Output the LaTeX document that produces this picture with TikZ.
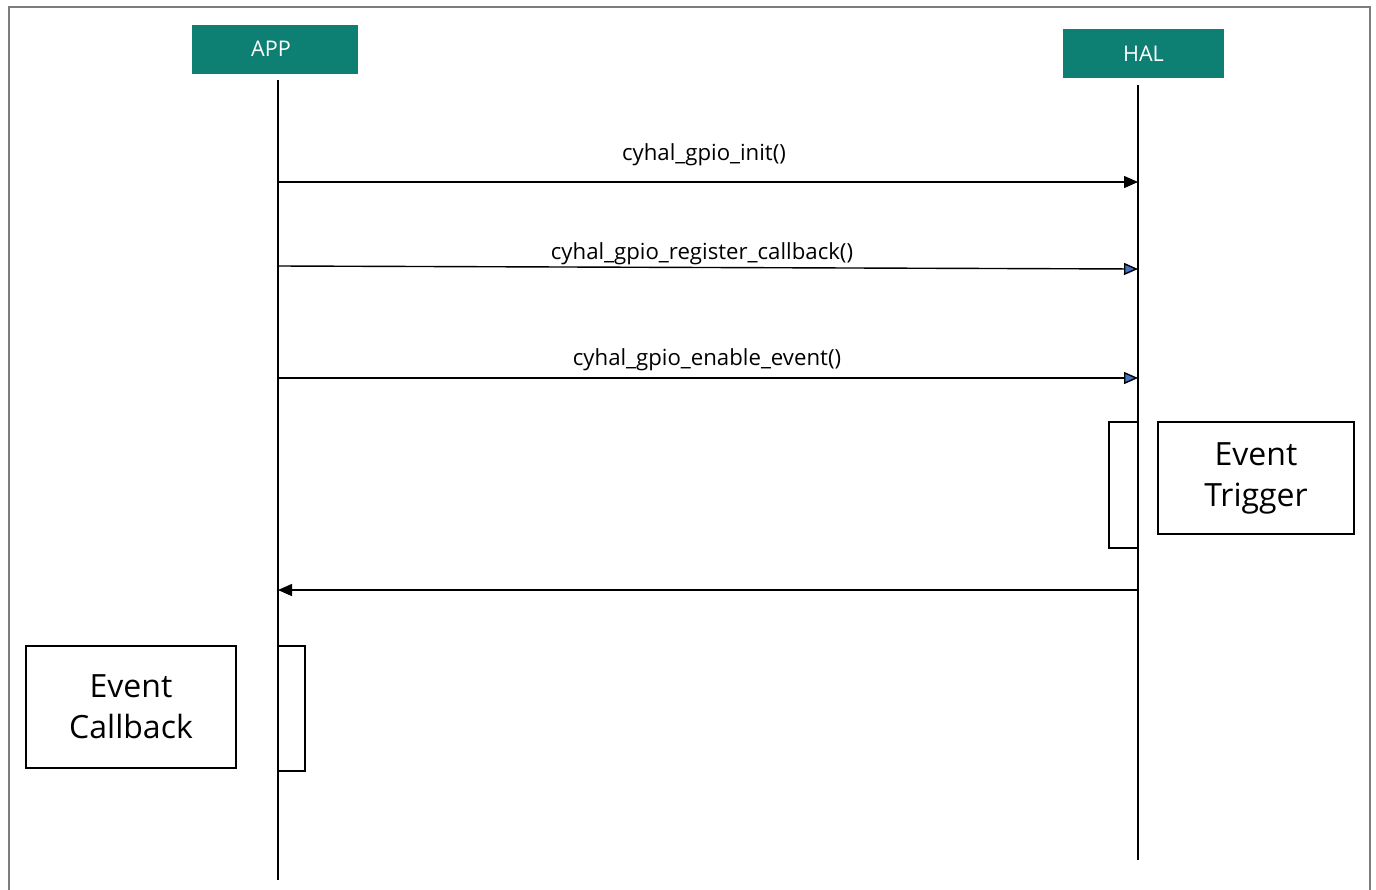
\documentclass[tikz,border=0pt]{standalone}
\usepackage{fontspec}
\setmainfont{Open Sans}
\usetikzlibrary{arrows.meta, positioning}
\definecolor{lane}{RGB}{14,128,115}
\definecolor{msgblue}{RGB}{68,114,196}
\definecolor{frame}{RGB}{125,125,125}

\begin{document}
\begin{tikzpicture}[x=0.5pt, y=-0.5pt, font=\fontsize{11.1}{13}\selectfont,
  actor/.style={fill=lane, text=white, minimum height=24.5pt, inner sep=0pt, font=\fontsize{10.8}{12}\selectfont},
  msg/.style={-{Triangle[length=7pt, width=6pt]}, line width=0.7pt},
  msgb/.style={-{Triangle[length=7pt, width=6pt, fill=msgblue]}, line width=0.7pt},
  act/.style={draw, line width=1.2pt, inner sep=0pt},
  note/.style={draw, line width=1.2pt, align=center, inner sep=0pt, font=\fontsize{16}{20.5}\selectfont}]
  \useasboundingbox (0,0) rectangle (1376,889);
  \draw[frame, line width=0.8pt] (9,900) -- (9,7) -- (1370,7) -- (1370,900);

  % the two parties and their lifelines
  \node[actor, minimum width=83pt, text width=83pt, align=center] (app) at (275,49) {\hspace*{-4pt}APP};
  \node[actor, minimum width=80.5pt] (hal) at (1143.5,53.5) {HAL};
  \coordinate (appTop) at (278,80);
  \coordinate (appEnd) at (278,880);
  \coordinate (halTop) at (1138,85);
  \coordinate (halEnd) at (1138,860);
  \draw[line width=0.7pt] (appTop) -- (appEnd);
  \draw[line width=0.8pt] (halTop) -- (halEnd);

  % calls from APP into HAL
  \coordinate (a1) at (278,182);  \coordinate (h1) at (1138,182);
  \coordinate (a2) at (278,266);  \coordinate (h2) at (1138,269);
  \coordinate (a3) at (278,378);  \coordinate (h3) at (1138,378);
  \draw[msg] (a1) -- (h1);
  \draw[msgb] (a2) -- (h2);
  \draw[msgb] (a3) -- (h3);
  \node (init) at (704,155) {cyhal\_gpio\_init()};
  \node (reg) at (702,254) {cyhal\_gpio\_register\_callback()};
  \node (enable) at (707,360) {cyhal\_gpio\_enable\_event()};

  % event raised in HAL
  \node[act, minimum width=14.5pt, minimum height=63pt] (halbar) at (1123.5,485) {};
  \node[note, minimum width=98pt, minimum height=56pt] (trigger) at (1256,478) {Event\\Trigger};

  % back to APP
  \coordinate (h4) at (1138,590);  \coordinate (a4) at (278,590);
  \draw[msg] (h4) -- (a4);
  \node[act, minimum width=13.5pt, minimum height=62.5pt] (appbar) at (291.5,708.5) {};
  \node[note, minimum width=105pt, minimum height=61pt] (callback) at (131,707) {Event\\Callback};
\end{tikzpicture}
\end{document}
